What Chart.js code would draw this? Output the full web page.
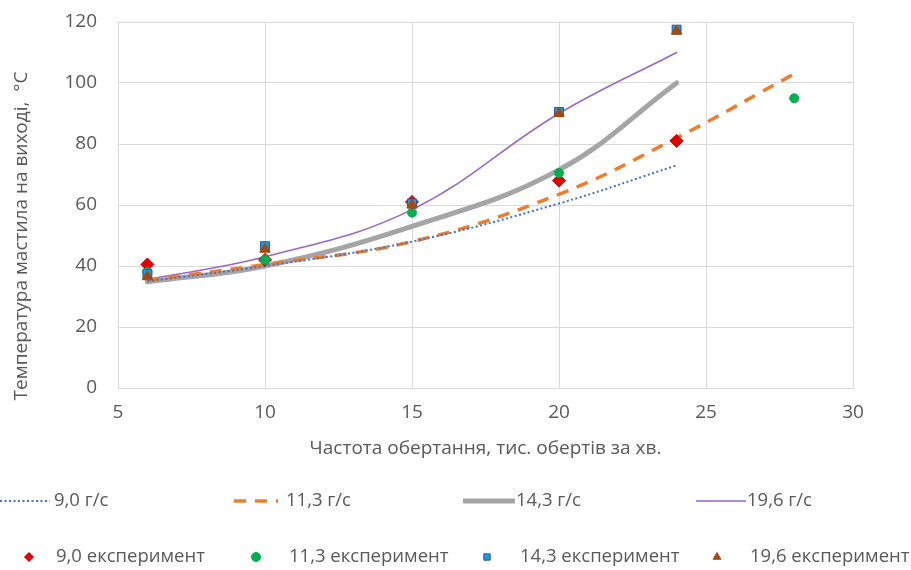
<!DOCTYPE html>
<html>
<head>
<meta charset="utf-8">
<script src="https://cdn.jsdelivr.net/npm/chart.js@4"></script>
<style>
  html, body { margin: 0; padding: 0; background: #fff; }
  #wrap { width: 911px; height: 570px; position: relative; }
</style>
</head>
<body>
<div id="wrap"><canvas id="c" width="911" height="570"></canvas></div>
<script>
// Rotational speed, thousand rpm
const speedFit = [6, 10, 15, 20, 24];
const speedFit113 = [6, 10, 15, 20, 24, 28];
const speedExp = [6, 10, 15, 20, 24];
const speedExp113 = [6, 10, 15, 20, 28];

// Approximation curves, oil outlet temperature, °C
const fit90 = [35, 40, 48, 60.5, 73];
const fit113 = [35.3, 40.5, 48, 63.5, 82, 103];
const fit143 = [34.8, 40, 53, 71.5, 100];
const fit196 = [35.6, 43, 58.5, 90, 110];

// Experimental points, °C
const exp90 = [40.5, 42, 61, 68, 81];
const exp113 = [38, 42, 57.5, 70.5, 95];
const exp143 = [37.5, 46.5, 60.5, 90.5, 117.5];
const exp196 = [36.5, 45.5, 60, 90, 117];

const xTicks = [5, 10, 15, 20, 25, 30];
const yTicks = [0, 20, 40, 60, 80, 100, 120];

const lineLabels = ['9,0 г/с', '11,3 г/с', '14,3 г/с', '19,6 г/с'];
const expLabels = ['9,0 експеримент', '11,3 експеримент', '14,3 експеримент', '19,6 експеримент'];
const yTitle = 'Температура мастила на виході,  °С';
const xTitle = 'Частота обертання, тис. обертів за хв.';

const FONT = '"Open Sans", "Noto Sans", sans-serif';
const SIZE = 19;
const TEXT = '#595959';

const pts = (xs, ys) => xs.map((x, i) => ({ x, y: ys[i] }));

const lineSet = (label, xs, ys, color, width, dash) => ({
  type: 'line', label, data: pts(xs, ys), borderColor: color, backgroundColor: color,
  borderWidth: width, borderDash: dash, pointRadius: 0, tension: 0.4, fill: false,
  order: 10, borderCapStyle: dash.length ? 'butt' : 'round'
});
const markSet = (label, xs, ys, style, r, fill, stroke, order) => ({
  type: 'scatter', label, data: pts(xs, ys), pointStyle: style, pointRadius: r,
  pointHoverRadius: r, backgroundColor: fill, borderColor: stroke, pointBorderWidth: 1,
  showLine: false, order
});

const datasets = [
  lineSet(lineLabels[0], speedFit, fit90, '#4472C4', 2, [2, 2.5]),
  lineSet(lineLabels[1], speedFit113, fit113, '#ED7D31', 3.5, [12, 9]),
  lineSet(lineLabels[2], speedFit, fit143, '#A5A5A5', 5, []),
  lineSet(lineLabels[3], speedFit, fit196, '#9966CC', 1.5, []),
  markSet(expLabels[0], speedExp, exp90, 'rectRot', 6.5, '#E00000', '#C00000', 4),
  markSet(expLabels[1], speedExp113, exp113, 'circle', 4.5, '#00B050', '#00B050', 3),
  markSet(expLabels[2], speedExp, exp143, 'rect', 6.3, '#1E9BE0', '#2F5597', 2),
  markSet(expLabels[3], speedExp, exp196, 'triangle', 6, '#A5480F', '#A5480F', 1)
];

// Vertical axis title, set a little below the middle of the axis
const yTitlePlugin = {
  id: 'yTitle',
  afterDraw(chart) {
    const ctx = chart.ctx;
    ctx.save();
    ctx.font = SIZE + 'px ' + FONT;
    ctx.fillStyle = TEXT;
    ctx.textAlign = 'center';
    ctx.textBaseline = 'middle';
    ctx.translate(22, 236);
    ctx.rotate(-Math.PI / 2);
    ctx.fillText(yTitle, 0, 0);
    ctx.restore();
  }
};

// Two-row legend under the axes
const legendPlugin = {
  id: 'twoRowLegend',
  afterDraw(chart) {
    const ctx = chart.ctx;
    const ds = chart.data.datasets;
    ctx.save();
    ctx.font = '18.5px ' + FONT;
    ctx.fillStyle = TEXT;
    ctx.textBaseline = 'middle';
    const row1 = [[0, 50, 54], [234, 278, 286], [463, 515, 516], [696, 746, 747]];
    const y1 = 501;
    row1.forEach((p, i) => {
      const d = ds[i];
      ctx.save();
      ctx.strokeStyle = d.borderColor;
      ctx.lineWidth = d.borderWidth;
      ctx.setLineDash(d.borderDash);
      ctx.lineCap = 'butt';
      ctx.beginPath();
      ctx.moveTo(p[0], y1);
      ctx.lineTo(p[1], y1);
      ctx.stroke();
      ctx.restore();
      ctx.fillText(d.label, p[2], y1);
    });
    const row2 = [[29, 56], [256, 289], [487, 520], [717, 750]];
    const y2 = 557;
    row2.forEach((p, i) => {
      const d = ds[4 + i];
      ctx.save();
      ctx.fillStyle = d.backgroundColor;
      ctx.strokeStyle = d.borderColor;
      ctx.lineWidth = 1;
      Chart.helpers.drawPoint(ctx, { pointStyle: d.pointStyle, radius: 4.5, borderWidth: 1 }, p[0], y2);
      ctx.restore();
      ctx.fillText(d.label, p[1], y2);
    });
    ctx.restore();
  }
};

new Chart(document.getElementById('c'), {
  data: { datasets },
  options: {
    responsive: false,
    animation: false,
    layout: { padding: { left: 0, right: 58, top: 22, bottom: 102 } },
    plugins: { legend: { display: false }, tooltip: { enabled: false } },
    scales: {
      x: {
        type: 'linear', min: 5, max: 30,
        afterBuildTicks: s => { s.ticks = xTicks.map(v => ({ value: v })); },
        afterFit: s => { s.height = 80; s.paddingLeft = 0; s.paddingRight = 0; },
        grid: { color: '#D9D9D9', lineWidth: 1, drawTicks: false },
        border: { color: '#D9D9D9', width: 1 },
        ticks: { padding: 13, color: TEXT, font: { family: FONT, size: SIZE } },
        title: {
          display: true, text: xTitle,
          color: TEXT, font: { family: FONT, size: SIZE }, padding: { top: 0, bottom: 8 }
        }
      },
      y: {
        type: 'linear', min: 0, max: 120,
        afterBuildTicks: s => { s.ticks = yTicks.map(v => ({ value: v })); },
        afterFit: s => { s.width = 118; s.paddingTop = 0; s.paddingBottom = 0; },
        grid: { color: '#D9D9D9', lineWidth: 1, drawTicks: false },
        border: { color: '#D9D9D9', width: 1 },
        ticks: { padding: 21, color: TEXT, font: { family: FONT, size: SIZE } },
        title: { display: false }
      }
    }
  },
  plugins: [yTitlePlugin, legendPlugin]
});
</script>
</body>
</html>
